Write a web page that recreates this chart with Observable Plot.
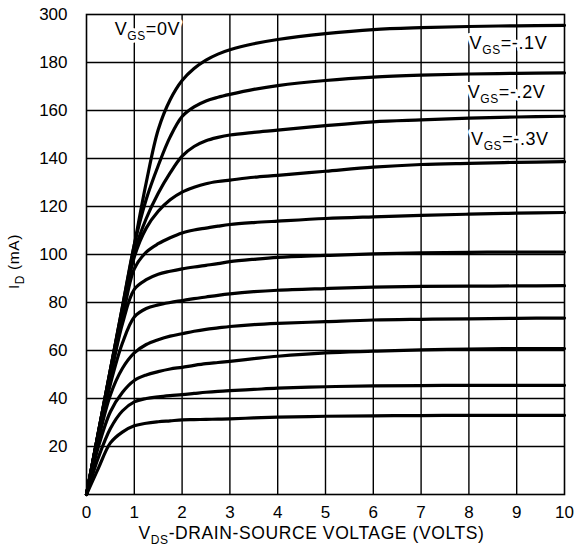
<!DOCTYPE html>
<html>
<head>
<meta charset="utf-8">
<script src="https://cdn.jsdelivr.net/npm/d3@7"></script>
<script src="https://cdn.jsdelivr.net/npm/@observablehq/plot@0.6"></script>
<style>
  body { margin: 0; background: #fff; }
  #chart svg { display: block; }
</style>
</head>
<body>
<div id="chart"></div>
<script>
// Drain-source voltage sample points (volts), shared by every curve
const vds = [0, 0.25, 0.5, 0.75, 1, 1.25, 1.5, 1.75, 2, 2.25, 2.5, 2.75, 3, 3.5, 4, 5, 6, 7, 8, 9, 10];

// Drain current (mA) for each gate-source voltage, top curve first
const idGs0  = [0, 26, 52, 78, 104, 130, 152, 164.5, 172.5, 177.5, 181, 183.5, 185.3, 187.8, 189.6, 192, 193.7, 194.5, 195, 195.3, 195.5];
const idGs01 = [0, 26, 52, 78, 104, 123, 137, 149, 157.5, 161.5, 164, 165.5, 166.7, 168.8, 170.4, 172.5, 173.9, 174.7, 175.2, 175.5, 175.7];
const idGs02 = [0, 26, 52, 77, 101, 115, 125.5, 134, 141, 145, 147.4, 148.8, 149.8, 150.9, 151.8, 153.7, 155.3, 156.1, 156.8, 157.3, 157.6];
const idGs03 = [0, 26, 51, 76, 99, 111, 118, 122.8, 126, 128, 129.5, 130.4, 131, 132.2, 133, 134.7, 136.4, 137.5, 138, 138.4, 138.7];
const idC5   = [0, 25.5, 50, 73, 94, 101, 104.5, 107, 109, 110.2, 111, 111.8, 112.5, 113.3, 113.9, 115, 115.7, 116.3, 116.8, 117.2, 117.5];
const idC6   = [0, 25, 49, 71, 85.5, 89.5, 91.8, 93, 94, 94.8, 95.5, 96.2, 97, 98, 98.8, 99.6, 100.3, 100.7, 100.9, 101, 101];
const idC7   = [0, 24, 46, 63, 74, 77.5, 79, 80, 80.8, 81.6, 82.3, 83, 83.6, 84.5, 85.1, 85.8, 86.4, 86.7, 86.8, 86.9, 87];
const idC8   = [0, 23, 41.5, 52.5, 59, 62.5, 64.5, 66, 67, 68, 68.8, 69.4, 70, 70.8, 71.3, 72, 72.7, 73, 73.2, 73.4, 73.5];
const idC9   = [0, 20, 34.5, 42.5, 47.5, 49.8, 51.2, 52.3, 53, 53.8, 54.5, 55, 55.5, 56.6, 57.6, 59, 59.7, 60.3, 60.6, 60.8, 60.8];
const idC10  = [0, 15.5, 27.5, 34.8, 38.6, 40, 40.7, 41.2, 41.6, 42.1, 42.6, 43, 43.3, 43.8, 44.3, 44.9, 45.3, 45.4, 45.5, 45.5, 45.5];
const idC11  = [0, 11, 21.5, 26, 28.6, 29.7, 30.3, 30.7, 31.1, 31.2, 31.3, 31.4, 31.5, 31.9, 32.2, 32.6, 32.8, 32.9, 33, 33, 33];

const curves = [idGs0, idGs01, idGs02, idGs03, idC5, idC6, idC7, idC8, idC9, idC10, idC11];

// Axis ticks and their printed labels (the top gridline is printed as 300)
const xTicks = [0, 1, 2, 3, 4, 5, 6, 7, 8, 9, 10];
const yTicks = [20, 40, 60, 80, 100, 120, 140, 160, 180, 200];
const yTickLabels = ["20", "40", "60", "80", "100", "120", "140", "160", "180", "300"];

// Curve annotations; _{...} marks a subscript
const gateLabels = ["V_{GS}=0V", "V_{GS}=-.1V", "V_{GS}=-.2V", "V_{GS}=-.3V"];
const xTitle = "V_{DS}-DRAIN-SOURCE VOLTAGE (VOLTS)";
const yTitle = "I_{D} (mA)";

const rows = curves.flatMap((ids, k) => ids.map((id, i) => ({vds: vds[i], id, curve: k})));

// annotation anchors in data units
const leftLabel = [{text: gateLabels[0], x: 0.59, y: 191.5}];
const rightLabels = [
  {text: gateLabels[1], x: 9.64, y: 185.8},
  {text: gateLabels[2], x: 9.60, y: 165.4},
  {text: gateLabels[3], x: 9.67, y: 145.8}
];

const font = "'Liberation Sans', Arial, Helvetica, sans-serif";

const chart = Plot.plot({
  width: 578,
  height: 548,
  marginLeft: 86,
  marginRight: 14,
  marginTop: 14,
  marginBottom: 54,
  style: {fontFamily: font, background: "#fff", color: "#000"},
  x: {domain: [0, 10]},
  y: {domain: [0, 200]},
  marks: [
    Plot.gridX({ticks: xTicks.slice(1, -1), stroke: "#000", strokeOpacity: 1, strokeWidth: 1.4}),
    Plot.gridY({ticks: yTicks.slice(0, -1), stroke: "#000", strokeOpacity: 1, strokeWidth: 1.4}),
    Plot.frame({stroke: "#000", strokeWidth: 1.6}),
    Plot.axisX({ticks: xTicks, tickSize: 0, tickPadding: 11, fontSize: 17, label: null}),
    Plot.axisY({ticks: yTicks, tickSize: 0, tickPadding: 19, fontSize: 17, label: null,
      tickFormat: (d) => yTickLabels[yTicks.indexOf(d)]}),
    Plot.line(rows, {x: "vds", y: "id", z: "curve", stroke: "#000", strokeWidth: 3.2,
      curve: "catmull-rom", strokeLinejoin: "round", strokeLinecap: "round"}),
    Plot.text(leftLabel, {x: "x", y: "y", text: "text", textAnchor: "start", lineAnchor: "bottom",
      fontSize: 18, fill: "#000", stroke: "#fff", strokeWidth: 6}),
    Plot.text(rightLabels, {x: "x", y: "y", text: "text", textAnchor: "end", lineAnchor: "bottom",
      fontSize: 18, fill: "#000", stroke: "#fff", strokeWidth: 6}),
    Plot.text([xTitle], {frameAnchor: "bottom", text: (d) => d, lineAnchor: "bottom",
      dx: -14, dy: 44, fontSize: 17.5, fill: "#000"}),
    Plot.text([yTitle], {frameAnchor: "left", text: (d) => d, rotate: -90, lineAnchor: "middle",
      textAnchor: "middle", dx: -72, dy: 7, fontSize: 15.5, fill: "#000"})
  ]
});

// Turn _{...} segments into lowered, smaller tspans
const SVGNS = "http://www.w3.org/2000/svg";
chart.querySelectorAll("text").forEach((t) => {
  const s = t.textContent;
  if (!s.includes("_{")) return;
  const parts = s.split(/_\{([^}]*)\}/);
  const size = parseFloat(t.getAttribute("font-size") || getComputedStyle(t).fontSize) || 16;
  const shift = Math.round(size * 0.32);
  t.setAttribute("letter-spacing", "0.6");
  while (t.firstChild) t.removeChild(t.firstChild);
  let lowered = false;
  parts.forEach((p, i) => {
    if (p === "") return;
    const ts = document.createElementNS(SVGNS, "tspan");
    ts.textContent = p;
    if (i % 2 === 1) {
      ts.setAttribute("font-size", Math.round(size * 0.74));
      if (!lowered) { ts.setAttribute("dy", shift); lowered = true; }
    } else if (lowered) {
      ts.setAttribute("dy", -shift);
      lowered = false;
    }
    t.appendChild(ts);
  });
});

document.getElementById("chart").appendChild(chart);
</script>
</body>
</html>
